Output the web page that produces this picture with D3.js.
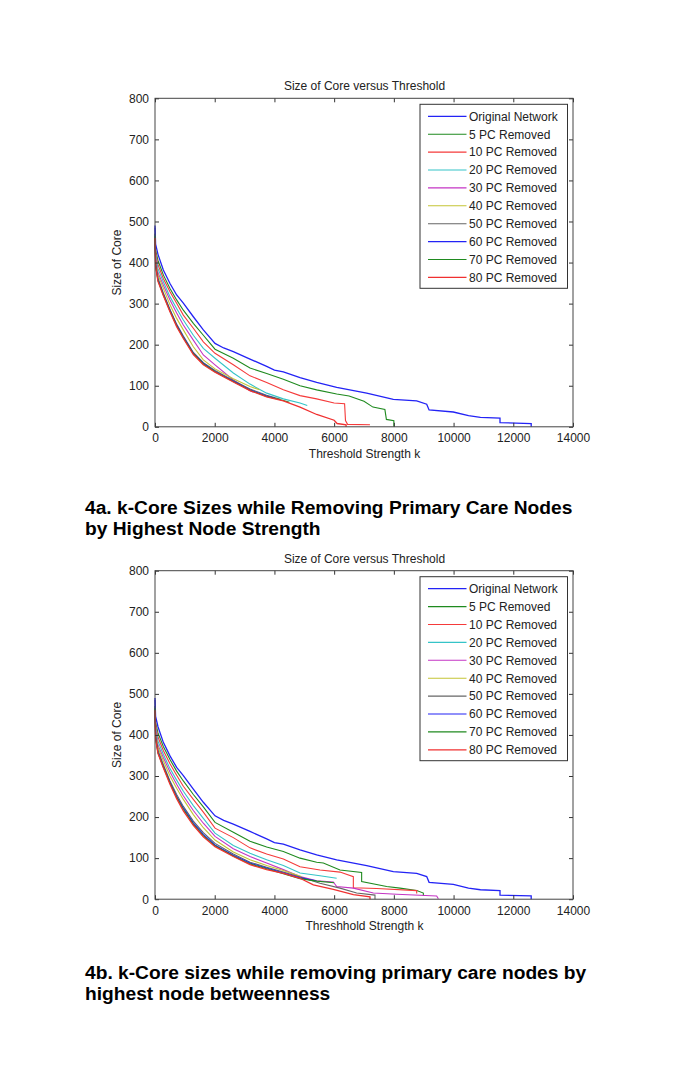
<!DOCTYPE html>
<html>
<head>
<meta charset="utf-8">
<script src="https://cdn.jsdelivr.net/npm/d3@7"></script>
<style>
  body { margin: 0; background: #fff; }
  text { font-family: Arial, "Liberation Sans", Helvetica, sans-serif; }
</style>
</head>
<body>
<script>
// legend labels and line colours (matlab default colour order)
var seriesNames = ["Original Network", "5 PC Removed", "10 PC Removed", "20 PC Removed",
  "30 PC Removed", "40 PC Removed", "50 PC Removed", "60 PC Removed", "70 PC Removed", "80 PC Removed"];
var seriesColors = ["#2323f5", "#1f8a1f", "#f53a3a", "#35c4c8", "#c435c4", "#c4c435", "#666666", "#2323f5", "#1f8a1f", "#f03030"];

var xTicks = [0, 2000, 4000, 6000, 8000, 10000, 12000, 14000];
var yTicks = [0, 100, 200, 300, 400, 500, 600, 700, 800];

// original network (same in both figures)
var origNet = [[0,490],[20,445],[100,420],[279,382],[502,349],[725,321],[949,301],[1284,268],[1619,236],[2010,203],[2300,192],[2623,183],[3182,165],[3740,147],[4000,138],[4299,134],[4857,120],[5415,108],[6086,96],[7090,82],[7982,67],[8765,63],[9100,55],[9180,41],[9991,36],[10500,27],[10900,23],[11555,21],[11555,10],[12600,8],[12600,0]];

// fig 4a - removal by node strength
var a5 = [[0,470],[20,430],[100,405],[279,370],[502,337],[725,309],[949,284],[1284,252],[1619,223],[2010,189],[2623,167],[3182,143],[3740,130],[4299,116],[4857,100],[5415,90],[6086,80],[6500,75],[7000,62],[7300,48],[7700,42],[7750,18],[8000,15],[8000,0]];
var a10 = [[0,460],[20,425],[100,395],[279,361],[502,329],[725,301],[949,272],[1284,240],[1619,207],[2010,179],[2623,151],[3182,124],[3740,108],[4299,90],[4857,76],[5415,68],[6000,58],[6350,56],[6380,15],[6450,6],[7200,5]];
var a20 = [[0,450],[20,420],[100,385],[279,353],[502,317],[725,288],[949,260],[1284,223],[1619,191],[2010,167],[2623,131],[3182,104],[3740,82],[4299,68],[4857,58],[5100,52]];
var a30 = [[0,445],[20,410],[100,375],[279,345],[502,309],[725,277],[949,248],[1284,211],[1619,175],[2010,151],[2623,114],[3182,88],[3300,84]];
var a40 = [[0,440],[20,405],[100,370],[279,337],[502,297],[725,264],[949,236],[1284,195],[1619,163],[2010,141],[2623,117],[3182,98],[3500,90]];
var a50 = [[0,470],[20,400],[100,362],[279,326],[502,286],[725,250],[949,221],[1284,181],[1619,156],[2010,137],[2623,113],[3182,92],[3740,77],[4200,67]];
var a60 = [[0,485],[20,395],[100,358],[279,323],[502,284],[725,248],[949,219],[1284,179],[1619,155],[2010,135],[2623,111],[3182,90],[3740,75],[4000,70]];
var a70 = [[0,465],[20,392],[100,356],[279,321],[502,282],[725,246],[949,217],[1284,178],[1619,153],[2010,134],[2623,110],[3182,89],[3740,74],[4299,64],[4500,60]];
var a80 = [[0,460],[20,390],[100,354],[279,320],[502,280],[725,244],[949,215],[1284,176],[1619,151],[2010,133],[2623,109],[3182,88],[3740,73],[4299,63],[4857,48],[5415,30],[6000,16],[6100,8],[6400,5],[6400,0]];

// fig 4b - removal by node betweenness
var b5 = [[0,470],[20,430],[100,405],[279,372],[502,340],[725,312],[949,288],[1284,255],[1619,225],[2010,187],[2623,163],[3182,141],[3740,127],[4299,116],[4857,100],[5415,90],[5638,88],[6196,71],[6921,65],[6921,43],[7759,31],[8206,27],[8765,21],[8988,15],[8988,8]];
var b10 = [[0,460],[20,425],[100,395],[279,362],[502,330],[725,302],[949,275],[1284,243],[1619,212],[2010,173],[2623,150],[3182,125],[3740,110],[4299,98],[4857,79],[5526,71],[6196,66],[6643,55],[6643,28],[7423,26],[8765,21],[8765,14]];
var b20 = [[0,450],[20,420],[100,385],[279,353],[502,318],[725,290],[949,263],[1284,228],[1619,197],[2010,161],[2623,131],[3182,112],[3740,96],[4299,82],[4857,64],[5526,57],[6085,51]];
var b30 = [[0,445],[20,410],[100,375],[279,345],[502,310],[725,280],[949,252],[1284,216],[1619,185],[2010,153],[2623,123],[3182,104],[3740,88],[4299,72],[4857,55],[5415,45],[5973,42],[6085,31],[6643,27],[7313,15],[8094,12],[9434,8],[9490,1]];
var b40 = [[0,440],[20,405],[100,370],[279,337],[502,300],[725,270],[949,243],[1284,206],[1619,174],[2010,144],[2623,115],[3182,96],[3740,82],[4299,70],[4900,55]];
var b50 = [[0,470],[20,400],[100,362],[279,328],[502,288],[725,255],[949,226],[1284,190],[1619,162],[2010,136],[2623,110],[3182,90],[3740,78],[4299,66],[4857,54],[5526,39],[6196,27],[6755,15],[7368,10],[7368,0]];
var b60 = [[0,485],[20,395],[100,358],[279,323],[502,285],[725,250],[949,222],[1284,186],[1619,158],[2010,132],[2623,107],[3182,88],[3740,76],[4299,64],[4857,52],[5400,45]];
var b70 = [[0,465],[20,392],[100,356],[279,322],[502,283],[725,248],[949,219],[1284,183],[1619,155],[2010,130],[2623,105],[3182,86],[3740,74],[4299,62],[4857,50],[5415,44],[6000,40]];
var b80 = [[0,460],[20,390],[100,355],[279,320],[502,280],[725,245],[949,215],[1284,180],[1619,152],[2010,128],[2623,104],[3182,84],[3740,72],[4299,63],[4857,51],[5303,35],[5973,24],[6643,11],[7201,6],[7201,0]];

var svg = d3.select("body").append("svg")
  .attr("width", 685)
  .attr("height", 1082);

// plot box geometry
var left = 155, plotW = 418, plotH = 328.5;

var x = d3.scaleLinear().domain([0, 14000]).range([0, plotW]);
var y = d3.scaleLinear().domain([0, 800]).range([plotH, 0]);

var line = d3.line()
  .x(function(d) { return x(d[0]); })
  .y(function(d) { return y(d[1]); });

drawPanel(98.3, [origNet, a5, a10, a20, a30, a40, a50, a60, a70, a80], "Threshold Strength k",
  ["4a. k-Core Sizes while Removing Primary Care Nodes", "by Highest Node Strength"], 513.5);
drawPanel(570.7, [origNet, b5, b10, b20, b30, b40, b50, b60, b70, b80], "Threshhold Strength k",
  ["4b. k-Core sizes while removing primary care nodes by", "highest node betweenness"], 979);

function drawPanel(top, data, xlab, caption, capY) {
  var g = svg.append("g").attr("transform", "translate(" + left + "," + top + ")");

  g.append("rect")
    .attr("width", plotW).attr("height", plotH)
    .attr("fill", "#fff");

  // curves
  g.selectAll("path.curve")
    .data(data)
    .enter()
    .append("path")
    .attr("class", "curve")
    .attr("d", line)
    .attr("fill", "none")
    .attr("stroke", function(d, i) { return seriesColors[i]; })
    .attr("stroke-width", function(d, i) { return (i == 0 || i == 9) ? 1.3 : 1.1; });

  // ticks on all four sides, pointing inwards
  var fmt = d3.format("d");
  var bottom = g.append("g").attr("transform", "translate(0," + plotH + ")")
    .call(d3.axisBottom(x).tickValues(xTicks).tickFormat(fmt).tickSize(-4).tickPadding(7).tickSizeOuter(0));
  var topAx = g.append("g")
    .call(d3.axisTop(x).tickValues(xTicks).tickSize(-4).tickFormat("").tickSizeOuter(0));
  var leftAx = g.append("g")
    .call(d3.axisLeft(y).tickValues(yTicks).tickFormat(fmt).tickSize(-4).tickPadding(6).tickSizeOuter(0));
  var rightAx = g.append("g").attr("transform", "translate(" + plotW + ",0)")
    .call(d3.axisRight(y).tickValues(yTicks).tickSize(-4).tickFormat("").tickSizeOuter(0));

  [bottom, topAx, leftAx, rightAx].forEach(function(a) {
    a.selectAll(".domain").remove();
    a.selectAll("line").attr("stroke", "#333");
    a.selectAll("text")
      .attr("font-size", "12px")
      .attr("fill", "#222")
      .style("font-family", "Arial, 'Liberation Sans', sans-serif");
  });

  g.append("rect")
    .attr("width", plotW).attr("height", plotH)
    .attr("fill", "none")
    .attr("stroke", "#444")
    .attr("stroke-width", 1);

  // title and axis labels
  g.append("text")
    .attr("x", plotW / 2 + 0.5).attr("y", -8)
    .attr("text-anchor", "middle")
    .attr("font-size", "12px").attr("fill", "#222")
    .text("Size of Core versus Threshold");
  g.append("text")
    .attr("x", plotW / 2 + 0.5).attr("y", plotH + 31)
    .attr("text-anchor", "middle")
    .attr("font-size", "12px").attr("fill", "#222")
    .text(xlab);
  g.append("text")
    .attr("transform", "translate(-34," + (plotH / 2) + ") rotate(-90)")
    .attr("text-anchor", "middle")
    .attr("font-size", "12px").attr("fill", "#222")
    .text("Size of Core");

  // legend
  var lg = g.append("g").attr("transform", "translate(265,6)");
  lg.append("rect")
    .attr("width", 147.5).attr("height", 184)
    .attr("fill", "#fff")
    .attr("stroke", "#333");
  var items = lg.selectAll("g.item")
    .data(seriesNames)
    .enter()
    .append("g")
    .attr("class", "item")
    .attr("transform", function(d, i) { return "translate(0," + (12 + i * 17.9) + ")"; });
  items.append("line")
    .attr("x1", 8).attr("x2", 46.5)
    .attr("stroke", function(d, i) { return seriesColors[i]; })
    .attr("stroke-width", function(d, i) { return (i == 0 || i == 9) ? 1.3 : 1.1; });
  items.append("text")
    .attr("x", 49).attr("dy", "0.36em")
    .attr("font-size", "12px").attr("fill", "#222")
    .text(function(d) { return d; });

  // caption under the figure
  svg.selectAll(null)
    .data(caption)
    .enter()
    .append("text")
    .attr("x", 85)
    .attr("y", function(d, i) { return capY + i * 21; })
    .attr("font-size", "19.2px")
    .attr("font-weight", "bold")
    .attr("fill", "#000")
    .text(function(d) { return d; });
}
</script>
</body>
</html>
